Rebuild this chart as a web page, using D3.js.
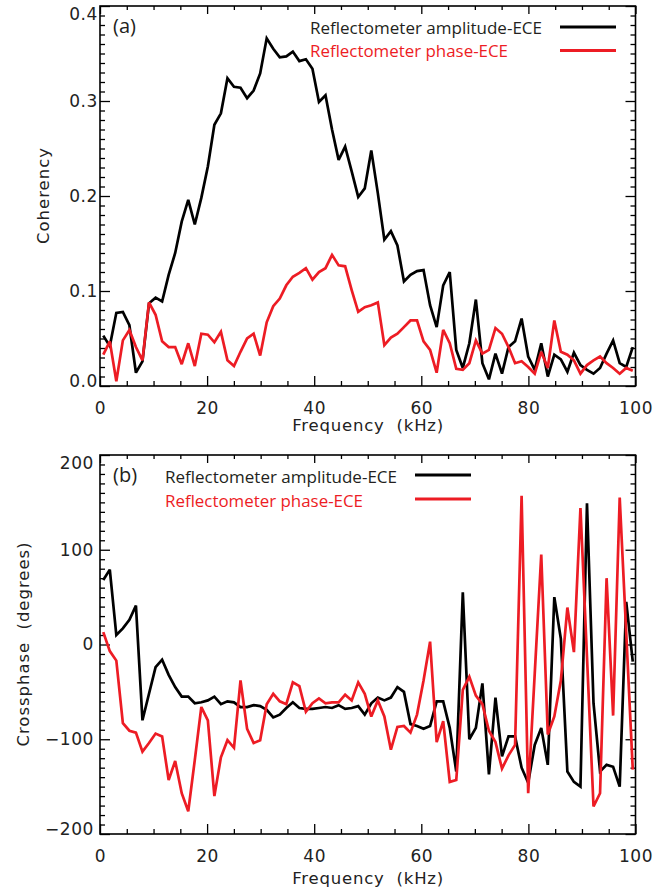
<!DOCTYPE html>
<html>
<head>
<meta charset="utf-8">
<script src="https://cdn.jsdelivr.net/npm/d3@7"></script>
<style>
  body { margin: 0; background: #fff; }
  svg { display: block; }
</style>
</head>
<body>
<svg id="chart"></svg>
<script>
// frequency grid (kHz)
let freqs = [
  0.61, 1.83, 3.05, 4.27, 5.49, 6.71, 7.93, 9.15, 10.38, 11.60,
  12.82, 14.04, 15.26, 16.48, 17.70, 18.92, 20.14, 21.36, 22.58, 23.80,
  25.02, 26.24, 27.47, 28.69, 29.91, 31.13, 32.35, 33.57, 34.79, 36.01,
  37.23, 38.45, 39.67, 40.89, 42.11, 43.33, 44.56, 45.78, 47.00, 48.22,
  49.44, 50.66, 51.88, 53.10, 54.32, 55.54, 56.76, 57.98, 59.20, 60.42,
  61.64, 62.87, 64.09, 65.31, 66.53, 67.75, 68.97, 70.19, 71.41, 72.63,
  73.85, 75.07, 76.29, 77.51, 78.73, 79.96, 81.18, 82.40, 83.62, 84.84,
  86.06, 87.28, 88.50, 89.72, 90.94, 92.16, 93.38, 94.60, 95.82, 97.05,
  98.27, 99.49
]

// (a) coherency
let cohAmp = [
  0.053, 0.042, 0.077, 0.078, 0.064, 0.014, 0.026, 0.087, 0.093, 0.089,
  0.117, 0.140, 0.173, 0.196, 0.170, 0.198, 0.231, 0.275, 0.287, 0.324,
  0.315, 0.314, 0.303, 0.311, 0.329, 0.366, 0.355, 0.346, 0.347, 0.352,
  0.342, 0.344, 0.334, 0.299, 0.306, 0.270, 0.238, 0.252, 0.226, 0.199,
  0.208, 0.248, 0.203, 0.154, 0.163, 0.148, 0.110, 0.117, 0.121, 0.122,
  0.085, 0.062, 0.106, 0.120, 0.038, 0.019, 0.045, 0.091, 0.024, 0.007,
  0.034, 0.013, 0.041, 0.047, 0.071, 0.031, 0.017, 0.045, 0.010, 0.033,
  0.028, 0.015, 0.035, 0.022, 0.017, 0.013, 0.019, 0.034, 0.048, 0.024,
  0.020, 0.041
]
let cohPhase = [
  0.033, 0.047, 0.005, 0.048, 0.059, 0.041, 0.027, 0.088, 0.075, 0.047,
  0.041, 0.041, 0.023, 0.045, 0.021, 0.055, 0.054, 0.046, 0.057, 0.027,
  0.021, 0.036, 0.050, 0.055, 0.032, 0.067, 0.084, 0.092, 0.106, 0.115,
  0.119, 0.124, 0.112, 0.120, 0.124, 0.138, 0.127, 0.126, 0.101, 0.078,
  0.083, 0.085, 0.088, 0.043, 0.051, 0.055, 0.062, 0.069, 0.069, 0.047,
  0.038, 0.014, 0.059, 0.045, 0.018, 0.017, 0.024, 0.048, 0.034, 0.038,
  0.061, 0.055, 0.041, 0.024, 0.026, 0.020, 0.013, 0.036, 0.019, 0.069,
  0.036, 0.033, 0.027, 0.013, 0.022, 0.027, 0.031, 0.024, 0.019, 0.013,
  0.019, 0.016
]

// (b) crossphase, degrees
let xpAmp = [
  68, 79, 10, 17, 26, 41, -80, -52, -24, -16,
  -32, -45, -55, -55, -62, -61, -59, -55, -63, -60,
  -61, -66, -66, -64, -65, -69, -77, -74, -67, -61,
  -67, -68, -68, -67, -66, -67, -64, -68, -67, -65,
  -74, -62, -56, -59, -56, -45, -50, -84, -86, -89,
  -86, -60, -60, -88, -134, 55, -100, -88, -41, -137,
  -56, -118, -97, -97, -130, -146, -106, -88, -127, 50,
  6, -134, -145, -150, 149, -62, -134, -127, -129, -150,
  45, -18
]
let xpPhase = [
  13, -7, -17, -83, -91, -93, -113, -104, -94, -97,
  -143, -123, -157, -176, -122, -66, -80, -160, -119, -101,
  -109, -38, -89, -104, -101, -63, -52, -60, -63, -40,
  -44, -71, -62, -57, -62, -61, -61, -53, -59, -40,
  -52, -76, -59, -76, -111, -87, -86, -93, -74, -38,
  3, -103, -81, -145, -143, -48, -34, -54, -63, -91,
  -103, -131, -117, -106, 157, -157, -31, 95, -95, -76,
  -38, 39, -8, 144, -13, -171, -157, 70, -75, 155,
  12, -132
]

let xTicks = [0, 20, 40, 60, 80, 100]
let cohTicks = [0, 0.1, 0.2, 0.3, 0.4]
let phaseTicks = [-200, -100, 0, 100, 200]
let legendLabels = ['Reflectometer amplitude-ECE', 'Reflectometer phase-ECE']
let panelTags = ['(a)', '(b)']

let width = 653
let height = 892
let plotLeft = 100
let plotRight = 635.5

let black = '#000000'
let red = '#ed1c24'
let textDark = '#231f20'
let tickFont = '"DejaVu Sans", sans-serif'
let legendFont = '"Open Sans", "Noto Sans", sans-serif'

let svg = d3.select('#chart')
  .attr('width', width)
  .attr('height', height)

let xScale = d3.scaleLinear().domain([0, 100]).range([plotLeft, plotRight])

let panels = [
  {
    top: 6, bottom: 386, domain: [0, 0.4], ticks: cohTicks, minorStep: 0.01,
    fmt: d3.format('.1f'), labelPad: 2, xPad: 15.5,
    series: [cohAmp, cohPhase],
    yTitle: 'Coherency', yTitleX: 49, yTitleLen: 96,
    xTitleY: 431, tag: panelTags[0], tagY: 32.5,
    legX: 310, legBase: [33.5, 57], legLine: [560, 616], legLineY: [27, 50.5]
  },
  {
    top: 455, bottom: 834, domain: [-200, 200], ticks: phaseTicks, minorStep: 10,
    fmt: (d) => d < 0 ? '\u2212' + Math.abs(d) : String(d), labelPad: 6, xPad: 16,
    series: [xpAmp, xpPhase],
    yTitle: 'Crossphase  (degrees)', yTitleX: 28.5, yTitleLen: 204,
    xTitleY: 883.5, tag: panelTags[1], tagY: 481.5,
    legX: 165, legBase: [482.5, 506.5], legLine: [415, 471], legLineY: [475, 499]
  }
]

let addAxis = (axis, transform, keepText) => {
  let g = svg.append('g')
    .attr('transform', transform)
    .call(axis)
    .attr('font-family', tickFont)
    .attr('font-size', 17)
  g.select('.domain').remove()
  g.selectAll('.tick line').attr('stroke', black).attr('stroke-width', 1.3)
  if (!keepText) {
    g.selectAll('.tick text').remove()
  } else {
    g.selectAll('.tick text').attr('fill', '#222').attr('letter-spacing', 0.6)
  }
  return g
}

let drawPanel = (p) => {
  let yScale = d3.scaleLinear().domain(p.domain).range([p.bottom, p.top])
  let xMinor = d3.range(0, 101, 5).filter((v) => v % 20 !== 0)
  let nMinor = Math.round((p.domain[1] - p.domain[0]) / p.minorStep)
  let yMinor = d3.range(0, nMinor + 1)
    .map((k) => p.domain[0] + k * p.minorStep)
    .filter((v, k) => k % 10 !== 0)

  // bottom axis
  addAxis(d3.axisBottom(xScale).tickValues(xTicks).tickSize(-10).tickPadding(p.xPad).tickFormat(d3.format('d')),
    'translate(0,' + p.bottom + ')', true)
  addAxis(d3.axisBottom(xScale).tickValues(xMinor).tickSize(-5),
    'translate(0,' + p.bottom + ')', false)
  // top axis
  addAxis(d3.axisTop(xScale).tickValues(xTicks).tickSize(-8), 'translate(0,' + p.top + ')', false)
  addAxis(d3.axisTop(xScale).tickValues(xMinor).tickSize(-4), 'translate(0,' + p.top + ')', false)
  // left axis, end labels kept inside the frame
  let yAx = addAxis(d3.axisLeft(yScale).tickValues(p.ticks).tickSize(-10).tickPadding(p.labelPad).tickFormat(p.fmt),
    'translate(' + plotLeft + ',0)', true)
  yAx.selectAll('.tick text').attr('y', (d) => {
    let pos = yScale(d)
    let want = Math.min(Math.max(pos, p.top + 8.5), p.bottom - 4.5)
    return want - pos
  })
  addAxis(d3.axisLeft(yScale).tickValues(yMinor).tickSize(-5), 'translate(' + plotLeft + ',0)', false)
  // right axis
  addAxis(d3.axisRight(yScale).tickValues(p.ticks).tickSize(-10), 'translate(' + plotRight + ',0)', false)
  addAxis(d3.axisRight(yScale).tickValues(yMinor).tickSize(-5), 'translate(' + plotRight + ',0)', false)

  // frame
  svg.append('rect')
    .attr('x', plotLeft)
    .attr('y', p.top)
    .attr('width', plotRight - plotLeft)
    .attr('height', p.bottom - p.top)
    .attr('fill', 'none')
    .attr('stroke', black)
    .attr('stroke-width', 1.6)

  // data lines
  let line = d3.line()
    .x((d, i) => xScale(freqs[i]))
    .y((d) => yScale(d))
  p.series.forEach((s, k) => {
    svg.append('path')
      .datum(s)
      .attr('d', line)
      .attr('fill', 'none')
      .attr('stroke', k === 0 ? black : red)
      .attr('stroke-width', 2.7)
      .attr('stroke-linejoin', 'miter')
      .attr('stroke-miterlimit', 3)
  })

  // axis titles
  svg.append('text')
    .attr('x', (plotLeft + plotRight) / 2)
    .attr('y', p.xTitleY)
    .attr('text-anchor', 'middle')
    .attr('font-family', tickFont)
    .attr('font-size', 16.5)
    .attr('fill', '#222')
    .attr('textLength', 151)
    .attr('lengthAdjust', 'spacing')
    .style('white-space', 'pre')
    .text('Frequency  (kHz)')

  svg.append('text')
    .attr('transform', 'translate(' + p.yTitleX + ',' + ((p.top + p.bottom) / 2) + ') rotate(-90)')
    .attr('text-anchor', 'middle')
    .attr('font-family', tickFont)
    .attr('font-size', 16.5)
    .attr('fill', '#222')
    .attr('textLength', p.yTitleLen)
    .attr('lengthAdjust', 'spacing')
    .style('white-space', 'pre')
    .text(p.yTitle)

  // panel tag
  svg.append('text')
    .attr('x', 113)
    .attr('y', p.tagY)
    .attr('font-family', legendFont)
    .attr('font-size', 20)
    .attr('fill', textDark)
    .text(p.tag)

  // legend
  legendLabels.forEach((lab, k) => {
    svg.append('text')
      .attr('x', p.legX)
      .attr('y', p.legBase[k])
      .attr('font-family', legendFont)
      .attr('font-size', 16.5)
      .attr('fill', k === 0 ? textDark : red)
      .attr('textLength', k === 0 ? 232 : 198)
      .attr('lengthAdjust', 'spacingAndGlyphs')
      .text(lab)
    svg.append('line')
      .attr('x1', p.legLine[0])
      .attr('x2', p.legLine[1])
      .attr('y1', p.legLineY[k])
      .attr('y2', p.legLineY[k])
      .attr('stroke', k === 0 ? black : red)
      .attr('stroke-width', 3)
  })
}

panels.forEach(drawPanel)
</script>
</body>
</html>
